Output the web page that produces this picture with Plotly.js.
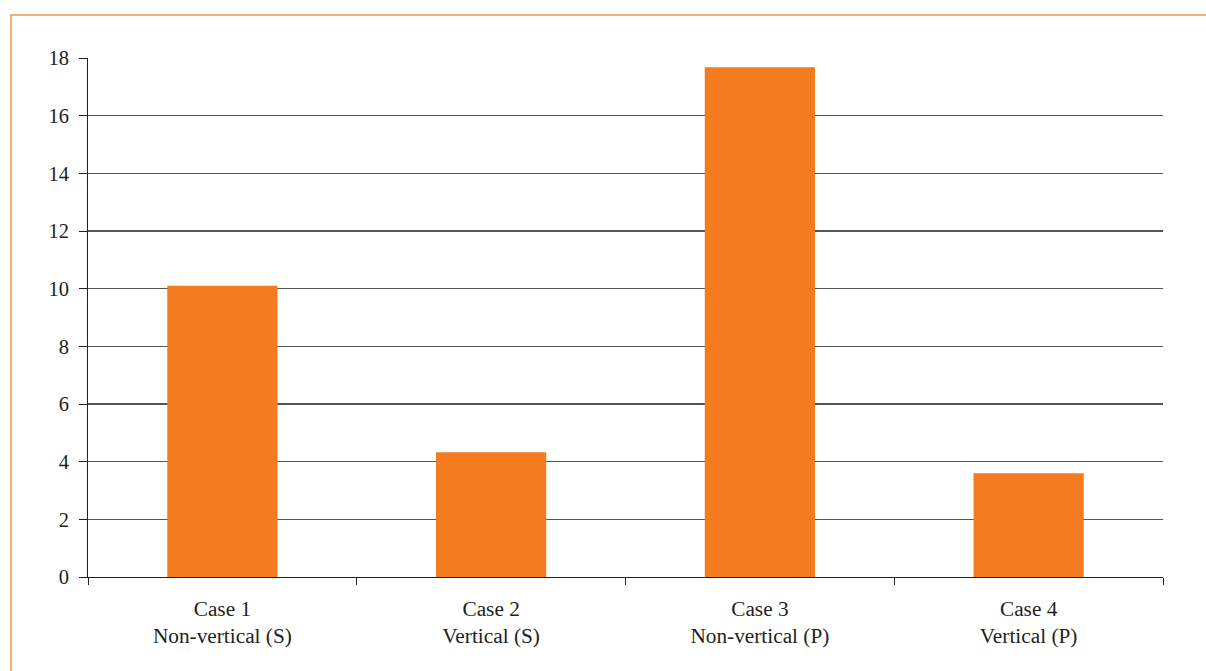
<!DOCTYPE html>
<html>
<head>
<meta charset="utf-8">
<script src="https://cdn.plot.ly/plotly-3.0.1.min.js"></script>
<style>
  html, body { margin: 0; padding: 0; background: #ffffff; }
  #chart { width: 1206px; height: 671px; }
</style>
</head>
<body>
<div id="chart"></div>
<script>
// Case labels (two lines each) and the plotted values
const cases = ["Case 1", "Case 2", "Case 3", "Case 4"];
const orientations = ["Non-vertical (S)", "Vertical (S)", "Non-vertical (P)", "Vertical (P)"];
const values = [10.1, 4.33, 17.68, 3.6];
const yTicks = [0, 2, 4, 6, 8, 10, 12, 14, 16, 18];

const categoryLabels = cases.map((c, i) => c + "<br>" + orientations[i]);

const trace = {
  type: "bar",
  x: categoryLabels,
  y: values,
  marker: { color: "#f47b20", line: { width: 0 } },
  hoverinfo: "x+y"
};

const serif = "Liberation Serif, Times New Roman, serif";
const yFont = { family: serif, size: 20.5, color: "#231f20" };
const xFont = { family: serif, size: 21.3, color: "#231f20" };

const layout = {
  width: 1206,
  height: 671,
  margin: { l: 88, r: 43, t: 58, b: 94, pad: 0 },
  paper_bgcolor: "#ffffff",
  plot_bgcolor: "#ffffff",
  showlegend: false,
  bargap: 0.59,
  font: yFont,
  xaxis: {
    type: "category",
    tickson: "boundaries",
    ticks: "outside",
    ticklen: 7,
    tickwidth: 1,
    tickcolor: "#231f20",
    showline: true,
    linecolor: "#231f20",
    linewidth: 1,
    showgrid: false,
    tickfont: xFont,
    ticklabelstandoff: 12,
    fixedrange: true
  },
  yaxis: {
    range: [0, 18],
    tickvals: yTicks,
    ticktext: yTicks.map(String),
    ticks: "outside",
    ticklen: 8,
    tickwidth: 1,
    tickcolor: "#231f20",
    showline: true,
    linecolor: "#231f20",
    linewidth: 1,
    showgrid: true,
    gridcolor: "#555555",
    gridwidth: 1.3,
    zeroline: false,
    tickfont: yFont,
    ticklabelstandoff: 6,
    fixedrange: true
  },
  shapes: [
    {
      // thin orange frame along the top and left edges
      type: "path",
      xref: "paper",
      yref: "paper",
      path: "M -0.0716,-0.19 L -0.0716,1.0829 L 1.05,1.0829",
      line: { color: "#f6944f", width: 1.5 }
    }
  ]
};

Plotly.newPlot("chart", [trace], layout, { displayModeBar: false, staticPlot: true });
</script>
</body>
</html>
